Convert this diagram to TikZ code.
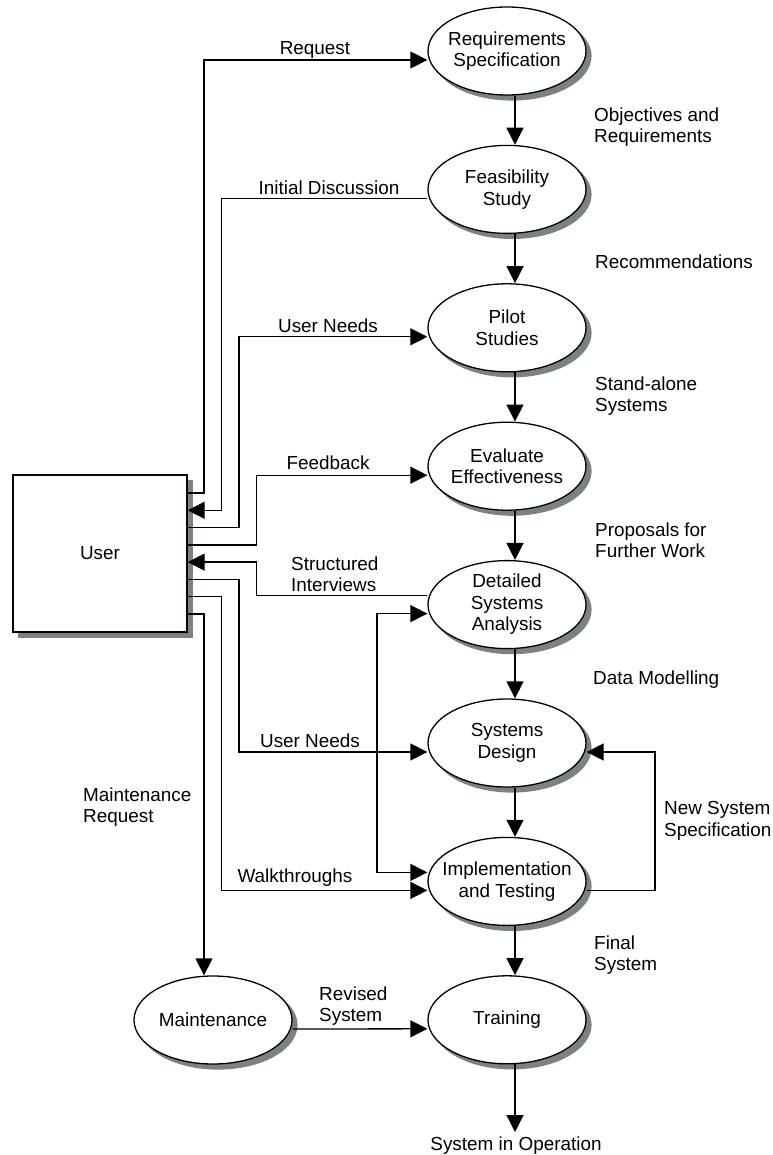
\documentclass[tikz,border=0pt]{standalone}
\usepackage{fontspec}
\setmainfont{Liberation Sans}
\usetikzlibrary{shapes.geometric, arrows.meta, backgrounds}
\definecolor{shadowgray}{RGB}{122,130,130}
\begin{document}
\begin{tikzpicture}[x=1pt, y=-1pt,
  font=\fontsize{18.9}{21.5}\selectfont,
  proc/.style={ellipse, draw, line width=1.3pt, fill=white,
    minimum width=158pt, minimum height=88pt, inner sep=0pt},
  ptext/.style={align=center, inner sep=0pt},
  ent/.style={rectangle, draw, line width=1.3pt, fill=white,
    minimum width=174pt, minimum height=157pt, inner sep=0pt},
  shade/.style={fill=shadowgray, draw=none},
  flow/.style={line width=1.3pt, -{Triangle[length=17pt,width=17pt]}},
  twoway/.style={line width=1.3pt, {Triangle[length=17pt,width=17pt]}-{Triangle[length=17pt,width=17pt]}},
  lbl/.style={align=left, inner sep=0pt, anchor=west},
  clbl/.style={align=center, inner sep=0pt, anchor=center},
]
\path[use as bounding box] (0,0) rectangle (772,1155);

% process nodes
\node[proc, label={[ptext]center:Requirements\\Specification}] (req) at (507,51) {};
\node[proc, label={[ptext]center:Feasibility\\Study}] (feas) at (507,189.4) {};
\node[proc, label={[ptext]center:Pilot\\Studies}] (pilot) at (507,327.8) {};
\node[proc, label={[ptext]center:Evaluate\\Effectiveness}] (eval) at (507,466.2) {};
\node[proc, label={[ptext]center:Detailed\\Systems\\Analysis}] (detail) at (507,604.6) {};
\node[proc, label={[ptext]center:Systems\\Design}] (design) at (507,743) {};
\node[proc, label={[ptext]center:Implementation\\and Testing}] (impl) at (507,881.4) {};
\node[proc, label={[ptext]center:Training}] (train) at (507,1019.8) {};
\node[proc, label={[ptext]center:Maintenance}] (maint) at (213,1020) {};

% external entity
\node[ent] (user) at (100,553.5) {User};

% shadows
\begin{scope}[on background layer]
  \foreach \n in {req,feas,pilot,eval,detail,design,impl,train,maint}
    \fill[shade] ([xshift=5pt,yshift=-5pt]\n.center) ellipse [x radius=79.6pt, y radius=44.6pt];
  \fill[shade] ([xshift=5.5pt,yshift=-5.5pt]user.south west) rectangle ([xshift=5.5pt,yshift=-5.5pt]user.north east);
\end{scope}

% bus coordinates
\coordinate (busA) at (204,0);
\coordinate (busB) at (221.5,0);
\coordinate (busC) at (239,0);
\coordinate (busD) at (256.5,0);
\coordinate (loopx) at (377,0);
\coordinate (specx) at (655,0);
\coordinate (out) at (515,1132);

% user side ports
\coordinate (u1) at ([yshift=60.5pt]user.east);
\coordinate (u2) at ([yshift=43.2pt]user.east);
\coordinate (u3) at ([yshift=25.9pt]user.east);
\coordinate (u4) at ([yshift=8.6pt]user.east);
\coordinate (u5) at ([yshift=-8.6pt]user.east);
\coordinate (u6) at ([yshift=-25.9pt]user.east);
\coordinate (u7) at ([yshift=-43.2pt]user.east);
\coordinate (u8) at ([yshift=-60.5pt]user.east);

% process side ports
\coordinate (r-in) at ([yshift=-9pt]req.west);
\coordinate (f-out) at ([yshift=-9pt]feas.west);
\coordinate (p-in) at ([yshift=-9pt]pilot.west);
\coordinate (e-in) at ([yshift=-9pt]eval.west);
\coordinate (d-out) at ([yshift=9pt]detail.west);
\coordinate (d-in) at ([yshift=-9pt]detail.west);
\coordinate (s-in) at ([yshift=-9pt]design.west);
\coordinate (s-back) at ([yshift=-9pt]design.east);
\coordinate (i-top) at ([yshift=9pt]impl.west);
\coordinate (i-in) at ([yshift=-9pt]impl.west);
\coordinate (i-out) at ([yshift=-9pt]impl.east);

% main vertical flow
\draw[flow] ([xshift=8pt]req.south) -- ([xshift=8pt]feas.north);
\draw[flow] ([xshift=8pt]feas.south) -- ([xshift=8pt]pilot.north);
\draw[flow] ([xshift=8pt]pilot.south) -- ([xshift=8pt]eval.north);
\draw[flow] ([xshift=8pt]eval.south) -- ([xshift=8pt]detail.north);
\draw[flow] ([xshift=8pt]detail.south) -- ([xshift=8pt]design.north);
\draw[flow] ([xshift=8pt]design.south) -- ([xshift=8pt]impl.north);
\draw[flow] ([xshift=8pt]impl.south) -- ([xshift=8pt]train.north);
\draw[flow] ([xshift=8pt]train.south) -- (out);

% user connections
\draw[flow] (u1) -| (busA |- r-in) -- (r-in);
\draw[flow] (f-out) -| (busB |- u2) -- (u2);
\draw[flow] (u3) -| (busC |- p-in) -- (p-in);
\draw[flow] (u4) -| (busD |- e-in) -- (e-in);
\draw[flow] (d-out) -| (busD |- u5) -- (u5);
\draw[flow] (u6) -| (busC |- s-in) -- (s-in);
\draw[flow] (u7) -| (busB |- i-in) -- (i-in);
\draw[flow] (u8) -| (busA |- maint.north);

% loops
\draw[twoway] (d-in) -- (loopx |- d-in) -- (loopx |- i-top) -- (i-top);
\draw[flow] (i-out) -- (specx |- i-out) -- (specx |- s-back) -- (s-back);
\draw[flow] ([yshift=-9pt]maint.east) -- ([yshift=-9pt]train.west);

% labels on the right
\node[lbl] (l-obj) at (594,127) {Objectives and\\Requirements};
\node[lbl] (l-rec) at (595,262) {Recommendations};
\node[lbl] (l-sta) at (595,396) {Stand-alone\\Systems};
\node[lbl] (l-pro) at (595,540) {Proposals for\\Further Work};
\node[lbl] (l-dat) at (593,680) {Data Modelling};
\node[lbl] (l-new) at (664,821) {New System\\Specification};
\node[lbl] (l-fin) at (594,955) {Final\\System};

% labels on the left
\node[clbl] (l-req) at (315,50) {Request};
\node[clbl] (l-ini) at (329,188) {Initial Discussion};
\node[clbl] (l-un1) at (328,326) {User Needs};
\node[clbl] (l-fee) at (328,463) {Feedback};
\node[lbl] (l-str) at (291,574) {Structured\\Interviews};
\node[clbl] (l-un2) at (310,741) {User Needs};
\node[clbl] (l-wal) at (295,878) {Walkthroughs};
\node[lbl] (l-mai) at (83,807) {Maintenance\\Request};
\node[lbl] (l-rev) at (319,1006) {Revised\\System};
\node[clbl] (l-sio) at (516,1146) {System in Operation};
\end{tikzpicture}
\end{document}
